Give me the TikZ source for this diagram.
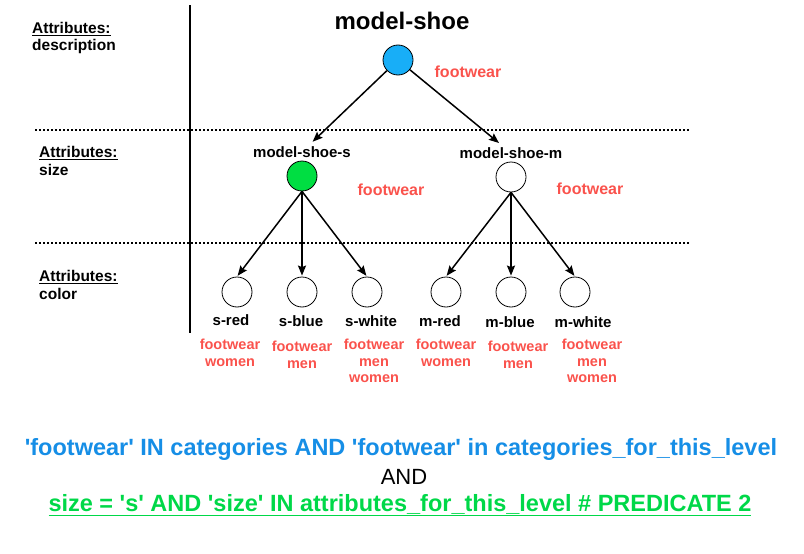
\documentclass[tikz,border=0pt]{standalone}
\usepackage{fontspec}
\setmainfont{Liberation Sans}[Ligatures=TeXOff]
\usetikzlibrary{positioning,arrows.meta}

\definecolor{rootblue}{RGB}{24,174,247}
\definecolor{sizegreen}{RGB}{0,222,66}
\definecolor{tagred}{RGB}{250,82,76}
\definecolor{predblue}{RGB}{22,142,230}
\definecolor{predgreen}{RGB}{0,216,72}

\begin{document}
\begin{tikzpicture}[x=1pt,y=-1pt,>={Stealth[length=10pt,width=8pt,inset=1.5pt]},
		dot/.style={shape=circle,draw,line width=0.8pt,minimum size=30pt,inner sep=0pt},
		label name/.style={font=\bfseries\fontsize{15}{17}\selectfont,inner sep=1pt},
		tag/.style={text=tagred,font=\bfseries\fontsize{14.5}{16.5}\selectfont,align=center,inner sep=0pt},
		lvlbox/.style={font=\bfseries\fontsize{15.5}{17.5}\selectfont,align=left,anchor=west,inner sep=0pt},
		arrow/.style={->,line width=1.5pt,shorten >=1pt},
		sepline/.style={line width=2pt,dash pattern=on 2pt off 2pt}]
		\useasboundingbox (0,0) rectangle (804,554);

		% level labels and separators
		\node (lvldesc) [lvlbox] at (32,38) {\underline{Attributes:}\\description};
		\node (lvlsize) [lvlbox] at (39,161) {\underline{Attributes:}\\size};
		\node (lvlcolor) [lvlbox] at (39,285) {\underline{Attributes:}\\color};
		\coordinate (top) at (190,5);
		\coordinate (bot) at (190,333);
		\draw[line width=2pt] (top) -- (bot);
		\coordinate (sepa) at (35,130);
		\coordinate (sepb) at (690,130);
		\coordinate (sepc) at (35,243);
		\coordinate (sepd) at (690,243);
		\draw[sepline] (sepa) -- (sepb);
		\draw[sepline] (sepc) -- (sepd);

		% create the nodes.
		\node (root) [dot,fill=rootblue] at (398,60) {};
		\node (rootname) [above=11pt of root,font=\bfseries\fontsize{24}{27}\selectfont,xshift=4pt] {model-shoe};
		\node (roottag) [tag,font=\bfseries\fontsize{16}{18}\selectfont] at (468,72) {footwear};

		\node (s) [dot,fill=sizegreen] at (302,176) {};
		\node (sname) [label name,above=2pt of s] {model-shoe-s};
		\node (stag) [tag,font=\bfseries\fontsize{16}{18}\selectfont] at (391,190) {footwear};
		\node (m) [dot] at (511,177) {};
		\node (mname) [label name,above=2pt of m] {model-shoe-m};
		\node (mtag) [tag,font=\bfseries\fontsize{16}{18}\selectfont] at (590,189) {footwear};

		\node (sred) [dot] at (237,292) {};
		\node (sblue) [dot] at (302,292) {};
		\node (swhite) [dot] at (367,292) {};
		\node (mred) [dot] at (446,292) {};
		\node (mblue) [dot] at (511,292) {};
		\node (mwhite) [dot] at (575,292) {};

		\node (srednm) [label name] at (231,320) {s-red};
		\node (sbluenm) [label name] at (301,321) {s-blue};
		\node (swhitenm) [label name] at (371,321) {s-white};
		\node (mrednm) [label name] at (440,321) {m-red};
		\node (mbluenm) [label name] at (510,322) {m-blue};
		\node (mwhitenm) [label name] at (583,322) {m-white};

		\node (sredtag) [tag] at (230,353) {footwear\\women};
		\node (sbluetag) [tag] at (302,355) {footwear\\men};
		\node (swhitetag) [tag] at (374,361) {footwear\\men\\women};
		\node (mredtag) [tag] at (446,353) {footwear\\women};
		\node (mbluetag) [tag] at (518,355) {footwear\\men};
		\node (mwhitetag) [tag] at (592,361) {footwear\\men\\women};

		% predicate text
		\node (predcat) [text=predblue,font=\bfseries\fontsize{23.5}{26}\selectfont] at (401,449) {'footwear' IN categories AND 'footwear' in categories\_for\_this\_level};
		\node (predand) [font=\fontsize{22}{24}\selectfont] at (404,477) {AND};
		\node (predsize) [text=predgreen,font=\bfseries\fontsize{23.5}{26}\selectfont] at (400,505) {\underline{size = 's' AND 'size' IN attributes\_for\_this\_level \# PREDICATE 2}};

		% connect the nodes
		\draw[arrow,shorten >=5pt] (root) -- (sname);
		\draw[arrow,shorten >=5pt] (root) -- (mname);
		\draw[arrow] (s.south) -- (sred.north);
		\draw[arrow] (s.south) -- (sblue.north);
		\draw[arrow] (s.south) -- (swhite.north);
		\draw[arrow] (m.south) -- (mred.north);
		\draw[arrow] (m.south) -- (mblue.north);
		\draw[arrow] (m.south) -- (mwhite.north);
	\end{tikzpicture}
\end{document}
